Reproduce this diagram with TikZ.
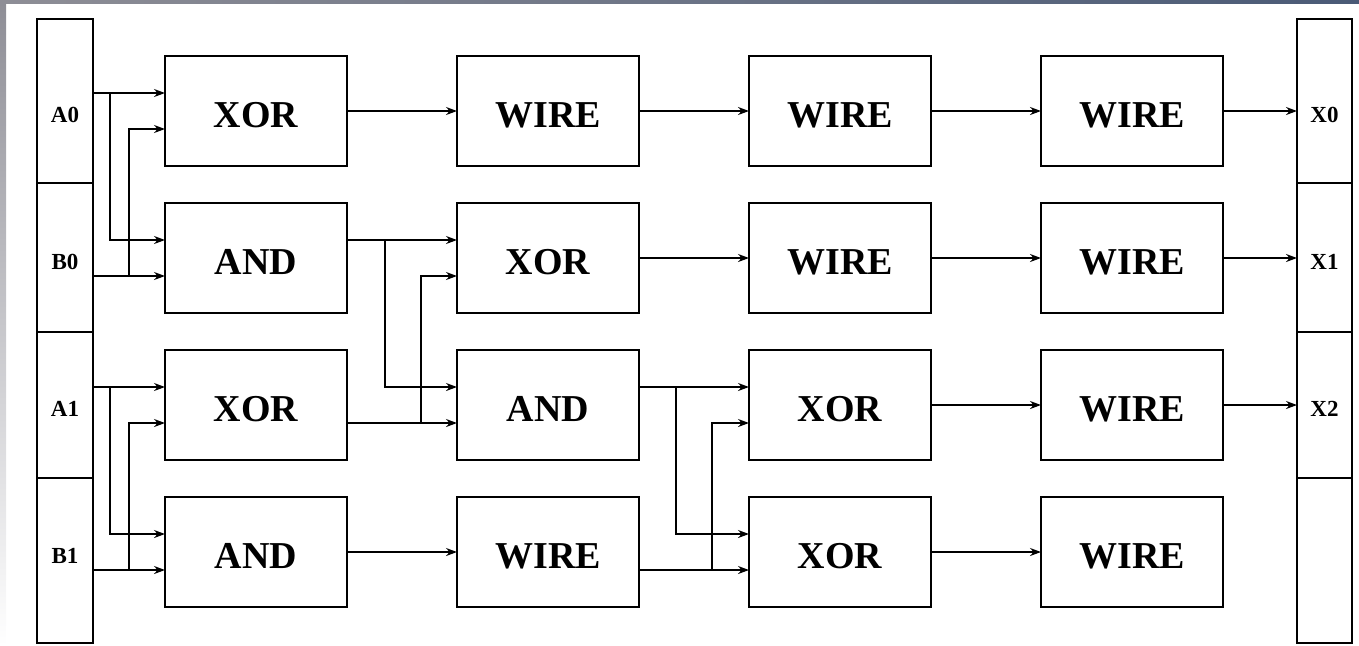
\documentclass[tikz,border=0pt]{standalone}
\usepackage{fontspec}
\setmainfont{Liberation Serif}
\usetikzlibrary{positioning, arrows.meta, calc}
\definecolor{bandgrey}{HTML}{8E8E96}
\definecolor{bandblue}{HTML}{4A5A76}
\definecolor{bandpale}{HTML}{C6D1DE}
\newcommand{\gatefont}{\fontsize{19}{22}\selectfont\bfseries}
\newcommand{\iofont}{\fontsize{11.5}{13}\selectfont\bfseries}
\tikzset{
  gate/.style={
    draw,
    line width=0.8pt,
    minimum width=91pt,
    minimum height=55pt,
    inner sep=0pt,
    outer sep=0pt,
    text height=16.5pt,
    text depth=0pt,
    font=\gatefont
  },
  iocell/.style={draw, line width=0.8pt, minimum width=28pt, inner sep=0pt, outer sep=0pt},
  iolbl/.style={font=\iofont, inner sep=0pt},
  wire/.style={-{Stealth[length=5.5pt,width=4pt]}, line width=0.75pt}
}

\begin{document}
\begin{tikzpicture}[node distance=18.5pt and 55pt]

  % screenshot frame
  \useasboundingbox (0,0) rectangle (679.5pt,-322.5pt);
  \shade[left color=bandgrey, right color=bandblue] (0,0) rectangle (679.5pt,-1.5pt);
  \shade[top color=bandgrey, middle color=bandpale, bottom color=white] (0,-1.5pt) rectangle (3pt,-322.5pt);

  % gates, one column after the other
  \node[gate] (g11) at (128pt,-55.5pt) {XOR};
  \node[gate, below=of g11] (g12) {AND};
  \node[gate, below=of g12] (g13) {XOR};
  \node[gate, below=of g13] (g14) {AND};

  \node[gate, right=of g11] (g21) {WIRE};
  \node[gate, right=of g12] (g22) {XOR};
  \node[gate, right=of g13] (g23) {AND};
  \node[gate, right=of g14] (g24) {WIRE};

  \node[gate, right=of g21] (g31) {WIRE};
  \node[gate, right=of g22] (g32) {WIRE};
  \node[gate, right=of g23] (g33) {XOR};
  \node[gate, right=of g24] (g34) {XOR};

  \node[gate, right=of g31] (g41) {WIRE};
  \node[gate, right=of g32] (g42) {WIRE};
  \node[gate, right=of g33] (g43) {WIRE};
  \node[gate, right=of g34] (g44) {WIRE};

  % two input pins on every gate
  \foreach \c in {1,...,4}{
    \foreach \r in {1,...,4}{
      \coordinate (g\c\r-u) at ([yshift=9pt]g\c\r.west);
      \coordinate (g\c\r-d) at ([yshift=-9pt]g\c\r.west);
    }
  }

  % input register
  \node[iocell, minimum height=82pt] (a0cell) at (32.5pt,-50.5pt) {};
  \node[iocell, minimum height=74.5pt, below=0pt of a0cell] (b0cell) {};
  \node[iocell, minimum height=73pt, below=0pt of b0cell] (a1cell) {};
  \node[iocell, minimum height=82.5pt, below=0pt of a1cell] (b1cell) {};
  \node[iolbl] (a0) at ($(a0cell |- g11)+(0,-2pt)$) {A0};
  \node[iolbl] (b0) at ($(b0cell |- g12)+(0,-2pt)$) {B0};
  \node[iolbl] (a1) at ($(a1cell |- g13)+(0,-2pt)$) {A1};
  \node[iolbl] (b1) at ($(b1cell |- g14)+(0,-2pt)$) {B1};

  % output register
  \node[iocell, minimum width=27.5pt, minimum height=82pt] (x0cell) at (662.25pt,-50.5pt) {};
  \node[iocell, minimum width=27.5pt, minimum height=74.5pt, below=0pt of x0cell] (x1cell) {};
  \node[iocell, minimum width=27.5pt, minimum height=73pt, below=0pt of x1cell] (x2cell) {};
  \node[iocell, minimum width=27.5pt, minimum height=82.5pt, below=0pt of x2cell] (x3cell) {};
  \node[iolbl] (x0) at ($(x0cell |- g41)+(0,-2pt)$) {X0};
  \node[iolbl] (x1) at ($(x1cell |- g42)+(0,-2pt)$) {X1};
  \node[iolbl] (x2) at ($(x2cell |- g43)+(0,-2pt)$) {X2};

  % register -> first column
  \draw[wire] (a0cell.east |- g11-u) -- (g11-u);
  \draw[wire] ([xshift=-27.5pt]g11-u) |- (g12-u);
  \draw[wire] (b0cell.east |- g12-d) -- (g12-d);
  \draw[wire] ([xshift=-18pt]g12-d) |- (g11-d);
  \draw[wire] (a1cell.east |- g13-u) -- (g13-u);
  \draw[wire] ([xshift=-27.5pt]g13-u) |- (g14-u);
  \draw[wire] (b1cell.east |- g14-d) -- (g14-d);
  \draw[wire] ([xshift=-18pt]g14-d) |- (g13-d);

  % first -> second column
  \draw[wire] (g11) -- (g21);
  \draw[wire] (g12.east |- g22-u) -- (g22-u);
  \draw[wire] ([xshift=-36pt]g22-u) |- (g23-u);
  \draw[wire] (g13.east |- g23-d) -- (g23-d);
  \draw[wire] ([xshift=-18pt]g23-d) |- (g22-d);
  \draw[wire] (g14) -- (g24);

  % second -> third column
  \draw[wire] (g21) -- (g31);
  \draw[wire] (g22) -- (g32);
  \draw[wire] (g23.east |- g33-u) -- (g33-u);
  \draw[wire] ([xshift=-36.5pt]g33-u) |- (g34-u);
  \draw[wire] (g24.east |- g34-d) -- (g34-d);
  \draw[wire] ([xshift=-18.5pt]g34-d) |- (g33-d);

  % third -> fourth column
  \foreach \r in {1,...,4}
    \draw[wire] (g3\r) -- (g4\r);

  % fourth column -> output register
  \draw[wire] (g41) -- (x0cell.west |- g41);
  \draw[wire] (g42) -- (x1cell.west |- g42);
  \draw[wire] (g43) -- (x2cell.west |- g43);

\end{tikzpicture}
\end{document}
